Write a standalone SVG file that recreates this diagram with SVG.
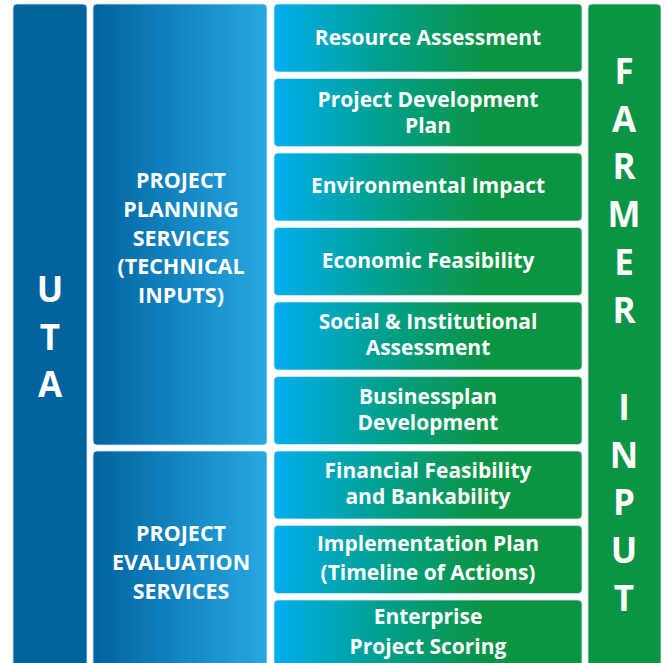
<svg xmlns="http://www.w3.org/2000/svg" width="665" height="663" viewBox="0 0 665 663">
<defs>
<linearGradient id="gBlue" gradientUnits="userSpaceOnUse" x1="93" y1="0" x2="267" y2="0">
<stop offset="0" stop-color="#0063a0"/><stop offset="1" stop-color="#27a8e1"/>
</linearGradient>
<linearGradient id="gGreen" gradientUnits="userSpaceOnUse" x1="274" y1="0" x2="582" y2="0">
<stop offset="0" stop-color="#00aeef"/><stop offset="0.35" stop-color="#00a08e"/><stop offset="0.68" stop-color="#0b9444"/><stop offset="1" stop-color="#0b9444"/>
</linearGradient>
<style>
.lbl{font-family:"Open Sans","Liberation Sans",sans-serif;font-weight:bold;fill:#fff;text-anchor:middle}
.item{font-size:21px}
.side{font-size:21.5px}
.big{font-size:35px}
.box{stroke:#d9e3ea;stroke-width:0.8}
</style>
</defs>
<rect width="665" height="663" fill="#fff"/>
<g id="uta">
<rect class="box" x="13" y="4" width="74" height="670" rx="4" fill="#03639f"/>
<text class="lbl big" x="50" y="302">U</text>
<text class="lbl big" x="50" y="350">T</text>
<text class="lbl big" x="50" y="397">A</text>
</g>
<g id="planning">
<rect class="box" x="93" y="4" width="174" height="441" rx="4" fill="url(#gBlue)"/>
<text class="lbl side" x="181" y="188">PROJECT</text>
<text class="lbl side" x="181" y="217">PLANNING</text>
<text class="lbl side" x="181" y="246">SERVICES</text>
<text class="lbl side" x="181" y="274">(TECHNICAL</text>
<text class="lbl side" x="181" y="303">INPUTS)</text>
</g>
<g id="evaluation">
<rect class="box" x="93" y="451" width="174" height="230" rx="4" fill="url(#gBlue)"/>
<text class="lbl side" x="181" y="541">PROJECT</text>
<text class="lbl side" x="181" y="570">EVALUATION</text>
<text class="lbl side" x="181" y="599">SERVICES</text>
</g>
<g id="resource">
<rect class="box" x="274" y="4" width="308" height="68" rx="4" fill="url(#gGreen)"/>
<text class="lbl item" x="428" y="45">Resource Assessment</text>
</g>
<g id="pdp">
<rect class="box" x="274" y="78.5" width="308" height="68" rx="4" fill="url(#gGreen)"/>
<text class="lbl item" x="428" y="107">Project Development</text>
<text class="lbl item" x="428" y="133">Plan</text>
</g>
<g id="env">
<rect class="box" x="274" y="153" width="308" height="68" rx="4" fill="url(#gGreen)"/>
<text class="lbl item" x="428" y="193">Environmental Impact</text>
</g>
<g id="econ">
<rect class="box" x="274" y="227.5" width="308" height="68" rx="4" fill="url(#gGreen)"/>
<text class="lbl item" x="428" y="268">Economic Feasibility</text>
</g>
<g id="social">
<rect class="box" x="274" y="302" width="308" height="68" rx="4" fill="url(#gGreen)"/>
<text class="lbl item" x="428" y="329">Social &amp; Institutional</text>
<text class="lbl item" x="428" y="355">Assessment</text>
</g>
<g id="business">
<rect class="box" x="274" y="376.5" width="308" height="68" rx="4" fill="url(#gGreen)"/>
<text class="lbl item" x="428" y="404">Businessplan</text>
<text class="lbl item" x="428" y="430">Development</text>
</g>
<g id="financial">
<rect class="box" x="274" y="451" width="308" height="68" rx="4" fill="url(#gGreen)"/>
<text class="lbl item" x="428" y="478">Financial Feasibility</text>
<text class="lbl item" x="428" y="504">and Bankability</text>
</g>
<g id="implementation">
<rect class="box" x="274" y="525.5" width="308" height="68" rx="4" fill="url(#gGreen)"/>
<text class="lbl item" x="428" y="551">Implementation Plan</text>
<text class="lbl item" x="428" y="580">(Timeline of Actions)</text>
</g>
<g id="enterprise">
<rect class="box" x="274" y="600" width="308" height="80" rx="4" fill="url(#gGreen)"/>
<text class="lbl item" x="428" y="624">Enterprise</text>
<text class="lbl item" x="428" y="654">Project Scoring</text>
</g>
<g id="farmer">
<rect class="box" x="588" y="4" width="73" height="670" rx="4" fill="#0b9444"/>
<text class="lbl big" x="624" y="84">F</text>
<text class="lbl big" x="624" y="132">A</text>
<text class="lbl big" x="624" y="179">R</text>
<text class="lbl big" x="624" y="227">M</text>
<text class="lbl big" x="624" y="275">E</text>
<text class="lbl big" x="624" y="323">R</text>
<text class="lbl big" x="624" y="420">I</text>
<text class="lbl big" x="624" y="468">N</text>
<text class="lbl big" x="624" y="515">P</text>
<text class="lbl big" x="624" y="563">U</text>
<text class="lbl big" x="624" y="611">T</text>
</g>
<g id="connectors"/>
</svg>
